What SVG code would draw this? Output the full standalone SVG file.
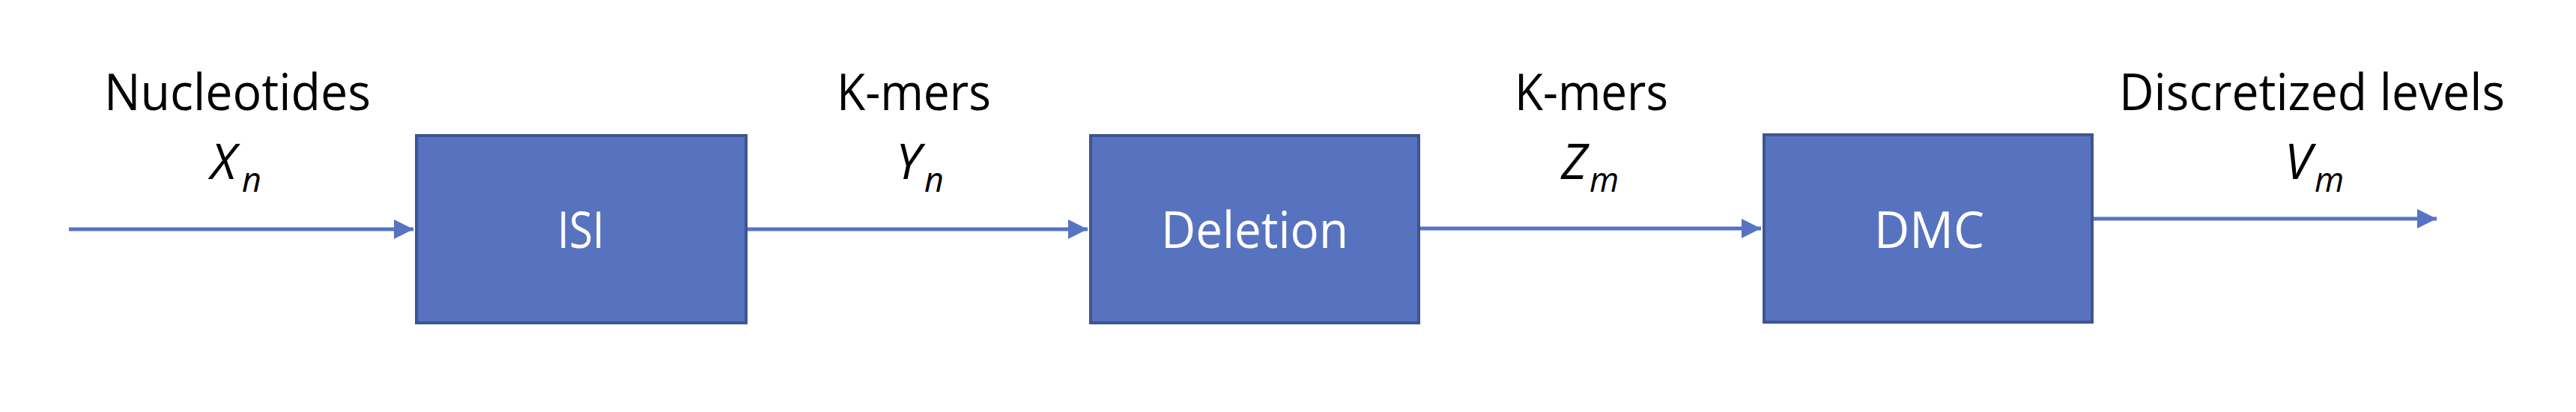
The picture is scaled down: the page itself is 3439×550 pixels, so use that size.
<svg xmlns="http://www.w3.org/2000/svg" width="3439" height="550" viewBox="0 0 3439 550">
<style>
.box{fill:#5773C0;stroke:#3F5590;stroke-width:4}
.lbl{font-family:"Open Sans","Liberation Sans",sans-serif;font-size:68px;fill:#000}
.in{font-family:"Open Sans","Liberation Sans",sans-serif;font-size:68px;fill:#fff}
.m{font-family:"Open Sans","Liberation Sans",sans-serif;font-size:66px;font-style:italic;fill:#000}
.sub{font-size:45px}
.conn{stroke:#5773C4;stroke-width:5;fill:none}
</style>
<defs>
<marker id="ah" viewBox="0 0 26 26" refX="26" refY="13" markerWidth="26" markerHeight="26" markerUnits="userSpaceOnUse" orient="auto">
<path d="M0,0 L26,13 L0,26 z" fill="#5773C4"/>
</marker>
</defs>
<rect width="3439" height="550" fill="#fff"/>
<g id="connectors">
<path class="conn" d="M92,306 H552" marker-end="url(#ah)"/>
<path class="conn" d="M997,306 H1452" marker-end="url(#ah)"/>
<path class="conn" d="M1896,305 H2351" marker-end="url(#ah)"/>
<path class="conn" d="M2795,292 H3253" marker-end="url(#ah)"/>
</g>
<g id="isi">
<rect class="box" x="556" y="181" width="440" height="250"/>
<text class="in" x="744" y="331" textLength="63" lengthAdjust="spacingAndGlyphs">ISI</text>
</g>
<g id="deletion">
<rect class="box" x="1456" y="181" width="438" height="250"/>
<text class="in" x="1550" y="331" textLength="250" lengthAdjust="spacingAndGlyphs">Deletion</text>
</g>
<g id="dmc">
<rect class="box" x="2355" y="180" width="438" height="250"/>
<text class="in" x="2502" y="331" textLength="147" lengthAdjust="spacingAndGlyphs">DMC</text>
</g>
<g id="label-x">
<text class="lbl" x="139" y="147" textLength="356" lengthAdjust="spacingAndGlyphs">Nucleotides</text>
<text class="m" x="281" y="239">X<tspan class="sub" x="323" y="256">n</tspan></text>
</g>
<g id="label-y">
<text class="lbl" x="1117" y="147" textLength="206" lengthAdjust="spacingAndGlyphs">K-mers</text>
<text class="m" x="1196" y="239">Y<tspan class="sub" x="1234" y="256">n</tspan></text>
</g>
<g id="label-z">
<text class="lbl" x="2022" y="147" textLength="205" lengthAdjust="spacingAndGlyphs">K-mers</text>
<text class="m" x="2084" y="239">Z<tspan class="sub" x="2122" y="256">m</tspan></text>
</g>
<g id="label-v">
<text class="lbl" x="2829" y="147" textLength="515" lengthAdjust="spacingAndGlyphs">Discretized levels</text>
<text class="m" x="3050" y="239">V<tspan class="sub" x="3090" y="256">m</tspan></text>
</g>
</svg>
